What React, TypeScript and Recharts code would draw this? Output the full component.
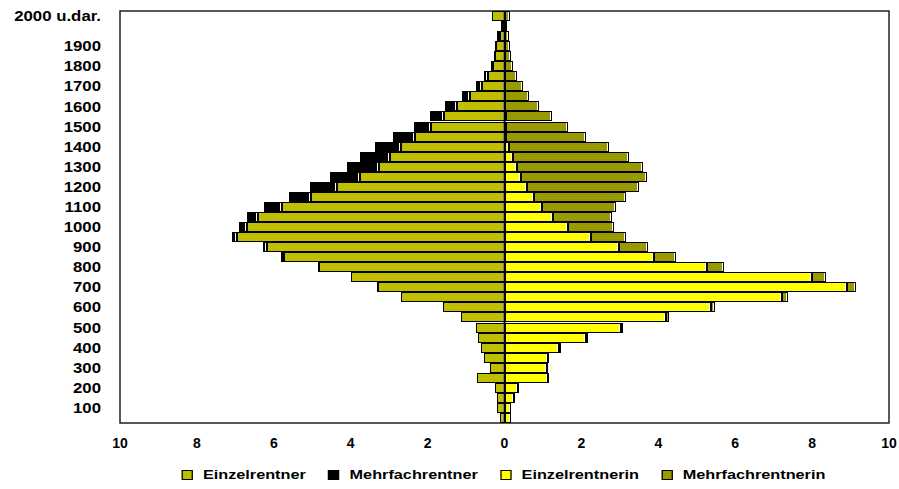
import { BarChart, Bar, XAxis, YAxis, Legend, ReferenceArea, ReferenceLine } from "recharts"

// income classes, bottom to top
const bins = [
  "50", "100", "150", "200", "250", "300", "350", "400", "450", "500",
  "550", "600", "650", "700", "750", "800", "850", "900", "950", "1000",
  "1050", "1100", "1150", "1200", "1250", "1300", "1350", "1400", "1450", "1500",
  "1550", "1600", "1650", "1700", "1750", "1800", "1850", "1900", "1950", "2000",
  "2000 u.dar.",
]

const shownBins = [
  "100", "200", "300", "400", "500", "600", "700", "800", "900", "1000",
  "1100", "1200", "1300", "1400", "1500", "1600", "1700", "1800", "1900", "2000 u.dar.",
]

// men (drawn to the left)
const einzelRentner = [
  0.12, 0.19, 0.2, 0.24, 0.72, 0.38, 0.53, 0.62, 0.69, 0.74,
  1.12, 1.59, 2.68, 3.3, 3.98, 4.83, 5.73, 6.18, 6.96, 6.71,
  6.42, 5.78, 5.03, 4.36, 3.75, 3.27, 2.97, 2.68, 2.32, 1.9,
  1.57, 1.24, 0.9, 0.58, 0.43, 0.29, 0.24, 0.21, 0.12, 0.03,
  0.32,
]
const mehrfachRentner = [
  0, 0, 0, 0, 0, 0, 0, 0, 0, 0,
  0.02, 0.02, 0.02, 0.02, 0.02, 0.03, 0.07, 0.1, 0.14, 0.19,
  0.29, 0.47, 0.58, 0.71, 0.8, 0.83, 0.8, 0.69, 0.57, 0.45,
  0.37, 0.3, 0.2, 0.16, 0.1, 0.07, 0.03, 0.03, 0.07, 0.07,
  0,
]

// women (drawn to the right)
const einzelRentnerin = [
  0.16, 0.16, 0.26, 0.35, 1.12, 1.1, 1.12, 1.42, 2.12, 3.02,
  4.19, 5.37, 7.23, 8.9, 8.0, 5.27, 3.9, 2.98, 2.24, 1.65,
  1.25, 0.97, 0.77, 0.58, 0.44, 0.32, 0.21, 0.13, 0.05, 0.03,
  0.03, 0.02, 0.02, 0.02, 0.02, 0.02, 0.02, 0.02, 0.02, 0.01,
  0.02,
]
const mehrfachRentnerin = [
  0.02, 0.02, 0.02, 0.02, 0.03, 0.03, 0.03, 0.04, 0.05, 0.07,
  0.09, 0.11, 0.15, 0.25, 0.35, 0.45, 0.55, 0.75, 0.93, 1.19,
  1.54, 1.94, 2.39, 2.92, 3.27, 3.29, 3.03, 2.59, 2.07, 1.62,
  1.2, 0.87, 0.62, 0.47, 0.31, 0.21, 0.16, 0.12, 0.09, 0.06,
  0.12,
]

const xTicks = [-10, -8, -6, -4, -2, 0, 2, 4, 6, 8, 10]

const series = [
  { key: "einzelRentner", name: "Einzelrentner", color: "#bfbf00" },
  { key: "mehrfachRentner", name: "Mehrfachrentner", color: "#000000" },
  { key: "einzelRentnerin", name: "Einzelrentnerin", color: "#ffff00" },
  { key: "mehrfachRentnerin", name: "Mehrfachrentnerin", color: "#999900" },
]

const data = bins.map((bin, i) => ({
  bin,
  einzelRentner: -einzelRentner[i],
  mehrfachRentner: -mehrfachRentner[i],
  einzelRentnerin: einzelRentnerin[i],
  mehrfachRentnerin: mehrfachRentnerin[i],
}))

const FONT = "'Liberation Sans', Arial, sans-serif"

// excel-ish bar piece: black outline, colour fill, white highlight at right edge
function Segment(props: any) {
  const { x, y, width, height, fill } = props
  const x0 = Math.round(Math.min(x, x + width))
  const x1 = Math.round(Math.max(x, x + width))
  const y0 = Math.round(y)
  const y1 = Math.round(y + height)
  const w = x1 - x0
  const h = y1 - y0
  if (w <= 0 || h <= 0) return <g />
  return (
    <g>
      <rect x={x0} y={y0} width={w} height={h} fill="#000" />
      {w > 2 && <rect x={x0 + 1} y={y0 + 1} width={w - 2} height={h - 2} fill={fill} />}
      {w > 3 && <rect x={x1 - 2} y={y0 + 1} width={1} height={h - 2} fill="#fff" />}
    </g>
  )
}

function YTick({ x, y, payload }: any) {
  if (!shownBins.includes(payload.value)) return <g />
  return (
    <g transform={`translate(${x - 19},${y}) scale(1.2,1)`}>
      <text x={0} y={0} dy="0.36em" textAnchor="end" fontFamily={FONT} fontWeight="bold" fontSize={14} fill="#000">
        {payload.value}
      </text>
    </g>
  )
}

function XTick({ x, y, payload }: any) {
  return (
    <text x={x} y={y + 25} textAnchor="middle" fontFamily={FONT} fontWeight="bold" fontSize={14} fill="#000">
      {Math.abs(payload.value)}
    </text>
  )
}

function LegendBox() {
  return (
    <div style={{ width: 899, display: "flex", justifyContent: "center", paddingTop: 14 }}>
      <div
        style={{
          display: "flex",
          alignItems: "center",
          gap: 18,
          transform: "translateX(54px) scaleX(1.25)",
          fontFamily: FONT,
          fontWeight: "bold",
          fontSize: 13,
          color: "#000",
        }}
      >
        {series.map((s) => (
          <div key={s.key} style={{ display: "flex", alignItems: "center", gap: 8 }}>
            <div style={{ width: 7, height: 8, border: "1px solid #000", background: s.color }} />
            <span>{s.name}</span>
          </div>
        ))}
      </div>
    </div>
  )
}

export default function App() {
  return (
    <div style={{ position: "absolute", left: 0, top: 0, width: 899, height: 489, background: "#fff" }}>
      <BarChart
        width={899}
        height={489}
        data={data}
        layout="vertical"
        stackOffset="sign"
        barCategoryGap={0}
        margin={{ top: 11, right: 10, bottom: 0, left: 0 }}
      >
        <XAxis
          type="number"
          domain={[-10, 10]}
          ticks={xTicks}
          axisLine={false}
          tickLine={false}
          tickSize={0}
          tickMargin={0}
          height={30}
          tick={<XTick />}
          interval={0}
        />
        <YAxis
          type="category"
          dataKey="bin"
          reversed
          width={120}
          axisLine={false}
          tickLine={false}
          tickSize={0}
          tickMargin={0}
          interval={0}
          tick={<YTick />}
        />
        <ReferenceArea x1={-10} x2={10} fill="none" stroke="#222" strokeWidth={1.5} fillOpacity={0} />
        {series.map((s) => (
          <Bar
            key={s.key}
            dataKey={s.key}
            name={s.name}
            stackId="a"
            fill={s.color}
            shape={<Segment />}
            isAnimationActive={false}
          />
        ))}
        <ReferenceLine x={0} stroke="#000" strokeWidth={2} />
        <Legend verticalAlign="bottom" wrapperStyle={{ height: 36, left: 0, width: 899 }} content={<LegendBox />} />
      </BarChart>
    </div>
  )
}
